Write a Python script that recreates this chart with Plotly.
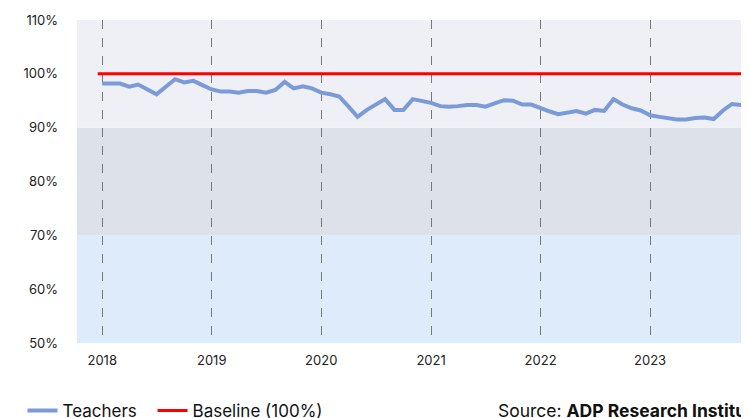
import plotly.graph_objects as go

# Teachers' employment index vs. baseline, monthly
months = [f"{y}-{m:02d}-01" for y in range(2018, 2024) for m in range(1, 13)][:71]
teachers = [
    98.2, 98.2, 98.2, 97.6, 98.0, 97.1, 96.2, 97.6, 99.0, 98.4, 98.7, 97.9,   # 2018
    97.1, 96.7, 96.7, 96.5, 96.8, 96.8, 96.5, 97.0, 98.5, 97.3, 97.7, 97.3,   # 2019
    96.5, 96.2, 95.8, 93.9, 92.0, 93.3, 94.3, 95.3, 93.3, 93.3, 95.3, 95.0,   # 2020
    94.6, 94.0, 93.9, 94.0, 94.2, 94.2, 93.9, 94.5, 95.1, 95.0, 94.3, 94.3,   # 2021
    93.6, 93.0, 92.5, 92.8, 93.1, 92.6, 93.3, 93.1, 95.3, 94.3, 93.6, 93.2,   # 2022
    92.3, 92.0, 91.8, 91.5, 91.5, 91.8, 91.9, 91.6, 93.2, 94.4, 94.2,         # 2023
]
baseline_x = ["2017-12-17", "2023-12-31"]
baseline_y = [100, 100]

# shaded bands (low, high)
bands = [(50, 70, "#ddebfb"), (70, 90, "#dce1ea"), (90, 110, "#eff0f5")]
year_ticks = [f"{y}-01-01" for y in range(2018, 2024)]
year_labels = [str(y) for y in range(2018, 2024)]
y_ticks = [50, 60, 70, 80, 90, 100, 110]

fig = go.Figure()
for lo, hi, col in bands:
    fig.add_shape(type="rect", xref="paper", x0=0, x1=1, yref="y", y0=lo, y1=hi,
                  fillcolor=col, line_width=0, layer="below")

fig.add_scatter(x=months, y=teachers, name="Teachers", mode="lines",
                line=dict(color="#7b9ad8", width=4), legend="legend")
fig.add_scatter(x=baseline_x, y=baseline_y, name="Baseline (100%)", mode="lines",
                line=dict(color="#ff0000", width=3), legend="legend2")

# source note runs off the right edge, as in the original
fig.add_annotation(text="Source: <b>ADP Research Institute</b>", xref="paper", yref="paper",
                   x=0.625, y=-0.21, xanchor="left", yanchor="middle", showarrow=False,
                   font=dict(size=17.5, color="#111"))

leg = dict(orientation="h", xref="container", yref="container", y=0.036,
           xanchor="left", yanchor="middle",
           font=dict(size=17, color="#111"), bgcolor="rgba(0,0,0,0)")

# page body has an 8px margin, so the figure is offset by 8px in the window
fig.update_layout(
    width=749, height=418,
    margin=dict(l=69, r=10, t=12, b=83, autoexpand=False),
    paper_bgcolor="white", plot_bgcolor="rgba(0,0,0,0)",
    font=dict(family="Inter, Roboto, sans-serif", size=13, color="#222"),
    showlegend=True,
    legend=dict(x=0.0194, **leg),
    legend2=dict(x=0.193, **leg),
    xaxis=dict(range=["2017-10-09", "2023-11-20"], tickvals=year_ticks, ticktext=year_labels,
               showgrid=True, gridcolor="#777", griddash="dash", gridwidth=1,
               zeroline=False, showline=False, ticks="", ticklabelstandoff=8),
    yaxis=dict(range=[50, 110], tickvals=y_ticks, ticktext=[f"{v}%" for v in y_ticks],
               showgrid=False, zeroline=False, showline=False, ticks="", ticklabelstandoff=18),
)

fig.write_html("out.html")
